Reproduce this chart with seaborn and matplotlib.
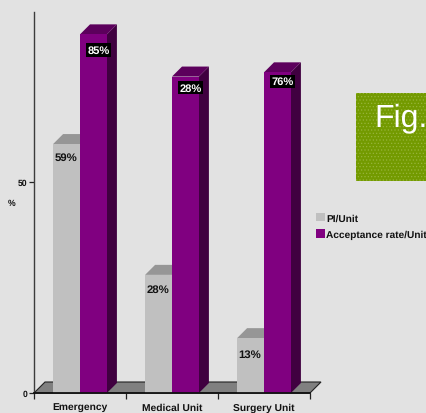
import matplotlib
matplotlib.use("Agg")
import matplotlib.pyplot as plt
from matplotlib.patches import Polygon, Rectangle
from matplotlib.ticker import FixedLocator
import pandas as pd
import seaborn as sns

units = ["Emergency", "Medical Unit", "Surgery Unit"]
series_names = ["PI/Unit", "Acceptance rate/Unit"]
pi_values = [59, 28, 13]
acceptance_values = [85, 75, 76]
pi_labels = ["59%", "28%", "13%"]
acceptance_labels = ["85%", "28%", "76%"]
y_ticks = [0, 50]
y_top = 90.3

BG = "#e2e2e2"
W, H = 427, 414
DEPTH = 10
FLOOR_DEPTH = 11
PX = 0.72  # points per pixel at 100 dpi

sns.set_theme(style="white")
plt.rcParams["font.family"] = ["Liberation Sans", "DejaVu Sans"]
plt.rcParams["font.weight"] = "bold"
plt.rcParams["text.hinting"] = "none"
plt.rcParams["hatch.linewidth"] = 0.5

frame = pd.DataFrame({
    "unit": units * 2,
    "series": [series_names[0]] * 3 + [series_names[1]] * 3,
    "value": pi_values + acceptance_values,
})

fig = plt.figure(figsize=(W / 100, H / 100), dpi=100, facecolor=BG)
ax = fig.add_axes([34 / W, 1 - 394 / H, 276 / W, 381 / H], facecolor="none")

sns.barplot(
    data=frame, x="unit", y="value", hue="series", order=units,
    hue_order=series_names, palette=["#c0c0c0", "#800080"],
    width=0.585, gap=0, saturation=1, errorbar=None, ax=ax,
    linewidth=0, edgecolor="none",
)
ax.set_xlim(-0.5, 2.5)
ax.set_ylim(0, y_top)

# Axis frame and ticks
for side in ("top", "right"):
    ax.spines[side].set_visible(False)
ax.spines["left"].set_color("#3c3c3c")
ax.spines["left"].set_linewidth(1.0)
ax.spines["bottom"].set_color("#111111")
ax.spines["bottom"].set_linewidth(1.3)
ax.spines["bottom"].set_zorder(6)
ax.set_yticks(y_ticks)
ax.tick_params(axis="y", length=3.5, width=0.9, color="#222222", labelsize=6.2, pad=1.5,
               left=True, labelcolor="#111111")
ax.tick_params(axis="x", which="major", length=0, labelsize=7.4, pad=7.2, bottom=False,
               labelcolor="#111111")
ax.xaxis.set_minor_locator(FixedLocator([-0.5, 0.5, 1.5, 2.5]))
ax.tick_params(axis="x", which="minor", length=4, width=0.9, color="#222222", bottom=True)
ax.set_xlabel("")
ax.set_ylabel("")
fig.text(12 / W, 1 - 204 / H, "%", ha="center", va="center", fontsize=6.2,
         fontweight="bold", color="#111111")

# Raised floor behind the bars, laid out in pixel space
(fx0, fy), (fx1, _) = ax.transData.transform([(-0.5, 0), (2.5, 0)])
ax.add_patch(Polygon(
    [(fx0, fy), (fx1, fy), (fx1 + FLOOR_DEPTH, fy + FLOOR_DEPTH), (fx0 + FLOOR_DEPTH, fy + FLOOR_DEPTH)],
    closed=True, transform=None, facecolor="#808080", edgecolor="#222222", linewidth=0.8,
    zorder=1, clip_on=False,
))

pi_bars, acceptance_bars = ax.containers
for bar in pi_bars:
    bar.set_zorder(3)
for bar in acceptance_bars:
    bar.set_zorder(5)

# Receding faces: grey tops first, so the purple bars sit in front of them
for bar in pi_bars:
    x0, x1 = bar.get_x(), bar.get_x() + bar.get_width()
    h = bar.get_height()
    (px0, py1), (px1, _) = ax.transData.transform([(x0, h), (x1, h)])
    ax.add_patch(Polygon(
        [(px0, py1), (px1, py1), (px1 + DEPTH, py1 + DEPTH), (px0 + DEPTH, py1 + DEPTH)],
        closed=True, transform=None, facecolor="#969696", edgecolor="none", zorder=2.5, clip_on=False,
    ))
for bar in acceptance_bars:
    x0, x1 = bar.get_x(), bar.get_x() + bar.get_width()
    h = bar.get_height()
    (px0, py0), (px1, py1) = ax.transData.transform([(x0, 0), (x1, h)])
    ax.add_patch(Polygon(
        [(px1, py0), (px1 + DEPTH, py0 + DEPTH), (px1 + DEPTH, py1 + DEPTH), (px1, py1)],
        closed=True, transform=None, facecolor="#400040", edgecolor="none", zorder=4.5, clip_on=False,
    ))
    ax.add_patch(Polygon(
        [(px0, py1), (px1, py1), (px1 + DEPTH, py1 + DEPTH), (px0 + DEPTH, py1 + DEPTH)],
        closed=True, transform=None, facecolor="#5c005c", edgecolor="none", zorder=4.5, clip_on=False,
    ))

# Value labels; each one hangs a slightly different distance below its bar top
for bar, text, drop in zip(pi_bars, pi_labels, (13, 14, 16)):
    ax.annotate(text, (bar.get_x() + bar.get_width() / 2, bar.get_height()),
                xytext=(-1 * PX, -drop * PX), textcoords="offset points", ha="center", va="center",
                fontsize=8.2, fontweight="bold", color="#111111", zorder=8, annotation_clip=False)
for bar, text, drop in zip(acceptance_bars, acceptance_labels, (15.5, 11, 9)):
    ax.annotate(text, (bar.get_x() + bar.get_width() / 2, bar.get_height()),
                xytext=(5 * PX, -drop * PX), textcoords="offset points", ha="center", va="center",
                fontsize=8, fontweight="bold", color="white", zorder=8, annotation_clip=False,
                bbox=dict(boxstyle="square,pad=0.14", facecolor="black", edgecolor="none"))

# Legend
handles, labels = ax.get_legend_handles_labels()
ax.legend(
    handles, labels, loc="upper left", bbox_to_anchor=(316 / W, 1 - 213.5 / H),
    bbox_transform=fig.transFigure, frameon=False, fontsize=7.3,
    handlelength=0.9, handleheight=0.95, handletextpad=0.12, labelspacing=0.65,
    borderpad=0, borderaxespad=0, labelcolor="#111111",
)

# Figure tag on the right
fig.add_artist(Rectangle((356 / W, 1 - 182 / H), 71 / W, 88 / H, transform=fig.transFigure,
                         facecolor="#739a00", edgecolor="#97b53a", hatch=".....", linewidth=0))
fig.text(374.5 / W, 1 - 118 / H, "Fig.", ha="left", va="center", fontsize=23,
         fontweight="normal", color="white", zorder=10)

fig.savefig("out.png", dpi=100, facecolor=BG)
